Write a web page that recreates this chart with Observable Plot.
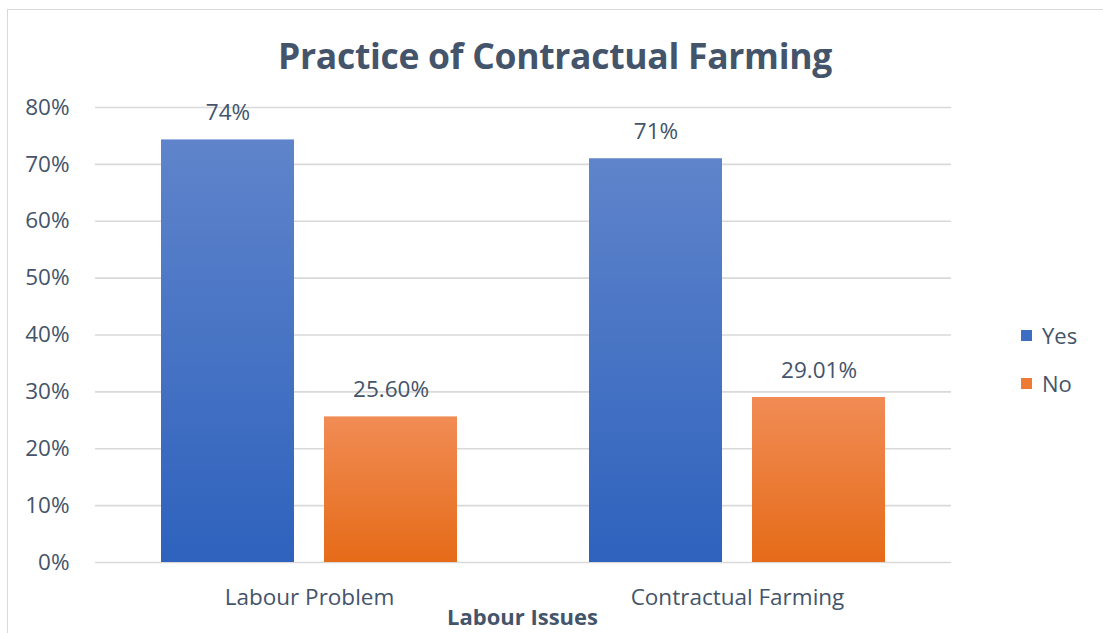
<!DOCTYPE html>
<html>
<head>
<meta charset="utf-8">
<script src="https://cdn.jsdelivr.net/npm/d3@7"></script>
<script src="https://cdn.jsdelivr.net/npm/@observablehq/plot@0.6"></script>
<style>
  html, body { margin: 0; padding: 0; background: #fff; width: 1103px; height: 633px; overflow: hidden; }
  #frame { position: absolute; left: 7px; top: 9px; width: 1110px; height: 640px; border: 1.5px solid #d9d9d9; box-sizing: border-box; }
  #title { position: absolute; left: 0; top: 31px; width: 1110px; text-align: center; font-family: "Open Sans", sans-serif; font-weight: 700; font-size: 35.5px; color: #44546a; letter-spacing: -0.3px; }
  #chart { position: absolute; left: 0; top: 90px; }
  #legend { position: absolute; left: 1021px; top: 311px; font-family: "Open Sans", sans-serif; font-size: 22px; color: #44546a; }
  .item { display: flex; align-items: center; height: 48px; }
  .sw { width: 11px; height: 11px; margin-right: 10px; }
</style>
</head>
<body>
<div id="frame"></div>
<div id="title">Practice of Contractual Farming</div>
<div id="chart"></div>
<div id="legend"></div>
<script>
const categories = ["Labour Problem", "Contractual Farming"];
const series = ["Yes", "No"];
const yesValues = [0.743, 0.7099];
const noValues = [0.256, 0.2901];
const yesLabels = ["74%", "71%"];
const noLabels = ["25.60%", "29.01%"];
const yTicks = [0, 0.1, 0.2, 0.3, 0.4, 0.5, 0.6, 0.7, 0.8];
const xLabel = "Labour Issues";

const data = [];
categories.forEach((c, i) => {
  data.push({category: c, series: "Yes", value: yesValues[i], label: yesLabels[i]});
  data.push({category: c, series: "No", value: noValues[i], label: noLabels[i]});
});

const textColor = "#44546a";
const font = "'Open Sans', sans-serif";
const fs = 22.5;

const plot = Plot.plot({
  width: 1103,
  height: 543,
  marginTop: 17,
  marginBottom: 71,
  marginLeft: 94,
  marginRight: 152,
  style: {fontFamily: font, fontSize: fs + "px", color: textColor, background: "transparent"},
  fx: {domain: categories, padding: 0, label: null},
  x: {domain: series, paddingInner: 0.183, paddingOuter: 0.398, axis: null},
  y: {domain: [0, 0.8], label: null},
  color: {domain: series, range: ["url(#gYes)", "url(#gNo)"]},
  marks: [
    Plot.gridY(yTicks, {stroke: "#d9d9d9", strokeWidth: 1.6, strokeOpacity: 1}),
    Plot.axisY(yTicks, {tickFormat: d => Math.round(d * 100) + "%", tickSize: 0, tickPadding: 26, fontSize: fs, fill: textColor}),
    Plot.axisFx({anchor: "bottom", tickSize: 0, tickPadding: 27, fontSize: fs, fill: textColor, label: null}),
    Plot.barY(data, {
      fx: "category",
      x: "series",
      y: "value",
      fill: "series"
    }),
    Plot.text(data, {
      fx: "category",
      x: "series",
      y: "value",
      text: "label",
      dy: -27,
      fontSize: fs,
      fill: textColor
    })
  ]
});

// gradients
const svg = d3.select(plot);
const defs = svg.insert("defs", ":first-child");
const g1 = defs.append("linearGradient").attr("id", "gYes").attr("x1", 0).attr("y1", 0).attr("x2", 0).attr("y2", 1);
g1.append("stop").attr("offset", "0%").attr("stop-color", "#5f84cb");
g1.append("stop").attr("offset", "100%").attr("stop-color", "#2e62bd");
const g2 = defs.append("linearGradient").attr("id", "gNo").attr("x1", 0).attr("y1", 0).attr("x2", 0).attr("y2", 1);
g2.append("stop").attr("offset", "0%").attr("stop-color", "#f18c55");
g2.append("stop").attr("offset", "100%").attr("stop-color", "#e56b18");

// axis title
svg.append("text")
  .attr("x", 94 + (1103 - 94 - 152) / 2)
  .attr("y", 535)
  .attr("text-anchor", "middle")
  .attr("font-family", font)
  .attr("font-size", 22)
  .attr("font-weight", 700)
  .attr("fill", textColor)
  .text(xLabel);

document.getElementById("chart").appendChild(plot);

const legendColors = {Yes: "#3e6dc4", No: "#ed7b34"};
const legend = d3.select("#legend");
series.forEach(s => {
  const it = legend.append("div").attr("class", "item");
  it.append("div").attr("class", "sw").style("background", legendColors[s]);
  it.append("span").text(s);
});
</script>
</body>
</html>
